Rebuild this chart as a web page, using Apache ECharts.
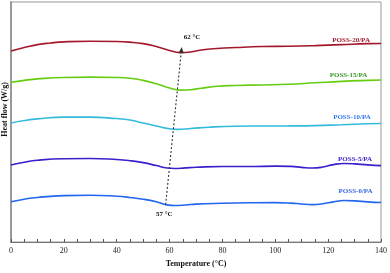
<!DOCTYPE html>
<html><head><meta charset="utf-8">
<script src="https://cdn.jsdelivr.net/npm/echarts@6/dist/echarts.min.js"></script>
<style>html,body{margin:0;padding:0;background:#fff}#c{width:390px;height:273px}</style>
</head><body><div id="c"></div>
<script>
var temps20 = [0,5,10,15,20,30,40,45,50,55,60,64,68,72,78,85,95,105,115,125,135,140];
var poss20  = [195,198.5,201.5,203.2,204.3,205,204.7,204,202.5,199.5,195.5,193.3,194,196,197.5,198.5,199.5,199.8,200.5,201.5,202.5,202.7];
var temps15 = [0,5,10,20,30,40,45,50,55,60,64,68,72,78,85,95,105,115,125,135,140];
var poss15  = [163,165,166.5,168,168.3,168,167.2,165,161.5,157.2,155,155.5,157,159,159.8,160.3,161,162.5,164,165,165.3];
var temps10 = [0,5,10,20,30,40,45,50,55,60,63,68,75,85,95,105,115,125,135,140];
var poss10  = [121.5,124,125.7,127.5,127.5,126,124.5,121.5,118.5,115.6,115,115.8,117.2,118.2,118.4,118.5,118.8,119.7,120.7,121];
var temps5  = [0,5,10,20,30,40,45,50,55,59,62,66,70,80,90,100,106,110,114,118,122,126,130,135,140];
var poss5   = [78.7,81.5,83.5,85,85.2,84.2,83,81,78,75.5,75,75.7,76.3,77,77,77.5,77.2,76.2,75.5,76.5,79,80.2,79.8,78.7,78];
var temps0  = [0,5,10,20,30,40,45,50,55,59,62,66,70,80,90,100,106,110,114,118,122,126,130,135,140];
var poss0   = [41,43.7,45.5,47.3,47.7,46.7,45.5,43.7,41,37.9,37.3,37.8,38.7,39.5,40,40.2,39.7,38.8,38.2,39,41,42.3,42,41,40.3];
var seriesNames = ['POSS-20/PA','POSS-15/PA','POSS-10/PA','POSS-5/PA','POSS-0/PA'];
var labelPos = [[128.7,206],[127.7,170.3],[129,127],[130.2,84.3],[130.4,52]];
var xTicks = [0,20,40,60,80,100,120,140];
var annot = [{text:'62 °C', at:[68.5,209]},{text:'57 °C', at:[58,28]}];
var trendLine = [[58.5,38],[64.5,196]];

var lineColors = ['#a3182b','#66cc11','#33bbdd','#3a20cc','#2266ee'];
var textColors = ['#a3182b','#339922','#3377ee','#4422cc','#3366dd'];
var font = '"Liberation Serif", "DejaVu Serif", serif';

function zip(t, v){ return t.map(function(x,i){return [x, v[i]];}); }
var sets = [zip(temps20,poss20), zip(temps15,poss15), zip(temps10,poss10), zip(temps5,poss5), zip(temps0,poss0)];

var series = sets.map(function(d,i){
  return {
    type:'line', name:seriesNames[i], data:d, smooth:0.5, showSymbol:false,
    lineStyle:{color:lineColors[i], width:1.6}, itemStyle:{color:lineColors[i]}, silent:true,
    markPoint:{symbol:'circle', symbolSize:0, silent:true, data:[{coord:labelPos[i], value:seriesNames[i],
      label:{show:true, position:'inside', formatter:seriesNames[i], color:textColors[i], fontFamily:font, fontWeight:'bold', fontSize:7}}]}
  };
});
series.push({
  type:'line', data:[], silent:true,
  markLine:{silent:true, symbol:['none','triangle'], symbolSize:[5,6],
    lineStyle:{type:[2,2], color:'#333', width:1.1},
    label:{show:false},
    data:[[{coord:trendLine[0]},{coord:trendLine[1]}]]},
  markPoint:{symbol:'circle', symbolSize:0, silent:true, data:annot.map(function(a){
    return {coord:a.at, label:{show:true, position:'inside', formatter:a.text, color:'#111', fontFamily:font, fontWeight:'bold', fontSize:7}};
  })}
});

var chart = echarts.init(document.getElementById('c'), null, {renderer:'canvas'});
chart.setOption({
  animation:false,
  grid:{left:11, right:8, top:2, bottom:26, show:true, borderColor:'#999', borderWidth:1},
  graphic:[{type:'text', left:1, top:82, rotation:Math.PI/2, silent:true,
    style:{text:'Heat flow (W/g)', fontFamily:font, fontWeight:'bold', fontSize:8, fill:'#111'}}],
  xAxis:{type:'value', min:0, max:140, interval:20,
    name:'Temperature (°C)', nameLocation:'middle', nameGap:18,
    nameTextStyle:{fontFamily:font, fontWeight:'bold', fontSize:8, color:'#111'},
    axisLine:{lineStyle:{color:'#777', width:1.2}},
    axisTick:{inside:true, length:3, lineStyle:{color:'#555'}},
    minorTick:{show:true, splitNumber:4, length:3, lineStyle:{color:'#555'}},
    splitLine:{show:false},
    axisLabel:{fontFamily:font, fontSize:8, color:'#222', margin:5, formatter:function(v){return xTicks.indexOf(v)>=0?String(v):'';}}
  },
  yAxis:{type:'value', min:0, max:245,
    axisLine:{show:true, lineStyle:{color:'#999', width:2}},
    axisTick:{show:false}, axisLabel:{show:false}, splitLine:{show:false}
  },
  series:series
});
</script></body></html>
